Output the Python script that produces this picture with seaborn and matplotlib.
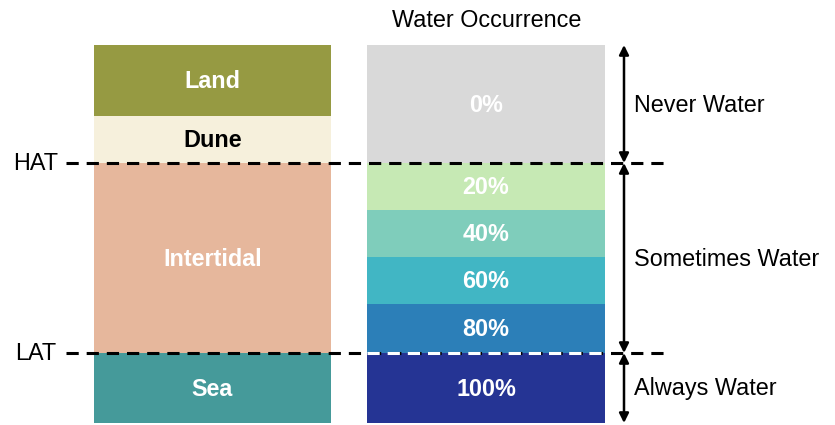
import matplotlib
matplotlib.use("Agg")
import matplotlib.pyplot as plt
import seaborn as sns

# segments of the two columns, top to bottom (heights in pixel units)
zone_names = ["Land", "Dune", "Intertidal", "Sea"]
zone_heights = [71, 47, 190, 70]
zone_colors = ["#969a42", "#f6f0dc", "#e6b79c", "#459a9a"]
zone_text = ["white", "black", "white", "white"]

occ_labels = ["0%", "20%", "40%", "60%", "80%", "100%"]
occ_heights = [118, 47, 47, 47, 49, 70]
occ_colors = ["#d9d9d9", "#c6e9b4", "#7fcdbb", "#41b6c4", "#2c7fb8", "#253494"]

tide_names = ["HAT", "LAT"]
tide_levels = [163, 353]

class_names = ["Never Water", "Sometimes Water", "Always Water"]
class_bounds = [(45, 163), (163, 353), (353, 423)]

sns.set_theme(style="white")
plt.rcParams["font.family"] = ["Liberation Sans", "DejaVu Sans"]
plt.rcParams["text.color"] = "black"

fig = plt.figure(figsize=(8.35, 4.25), dpi=100)
ax = fig.add_axes([0, 0, 1, 1])
ax.set_xlim(0, 835)
ax.set_ylim(425, 0)
ax.axis("off")

top = 45
fs = 16.8


def draw_column(x0, width, heights, colors, labels, text_colors):
    bottom = top
    for h, c, lab, tc in zip(heights, colors, labels, text_colors):
        ax.bar(x0, h, width=width, bottom=bottom, color=c, align="edge",
               linewidth=0)
        ax.text(x0 + width / 2, bottom + h / 2 + 1, lab, ha="center",
                va="center", fontsize=fs, fontweight="bold", color=tc)
        bottom += h


draw_column(94, 237, zone_heights, zone_colors, zone_names, zone_text)
draw_column(367, 238, occ_heights, occ_colors, occ_labels,
            ["white"] * len(occ_labels))

ax.text(487, 20, "Water Occurrence", ha="center", va="center", fontsize=fs)

# tide lines
for name, lvl in zip(tide_names, tide_levels):
    ax.plot([66, 665], [lvl, lvl], color="black", lw=2.2, dashes=(4, 2.6),
            solid_capstyle="butt", dash_capstyle="butt")
    ax.text(36, lvl + 1, name, ha="center", va="center", fontsize=fs)

# the LAT line shows white over the dark 100% block
ax.plot([367, 605], [tide_levels[1], tide_levels[1]], color="white", lw=2.2,
        dashes=(4, 2.6), dash_capstyle="butt")

# arrows for the occurrence classes
for name, (y0, y1) in zip(class_names, class_bounds):
    ax.annotate("", xy=(624, y0), xytext=(624, y1),
                arrowprops=dict(arrowstyle="<|-|>", color="black", lw=1.8,
                                mutation_scale=14, shrinkA=0, shrinkB=0))
    ax.text(634, (y0 + y1) / 2 + 1, name, ha="left", va="center", fontsize=fs)

fig.savefig("out.png", dpi=100)
